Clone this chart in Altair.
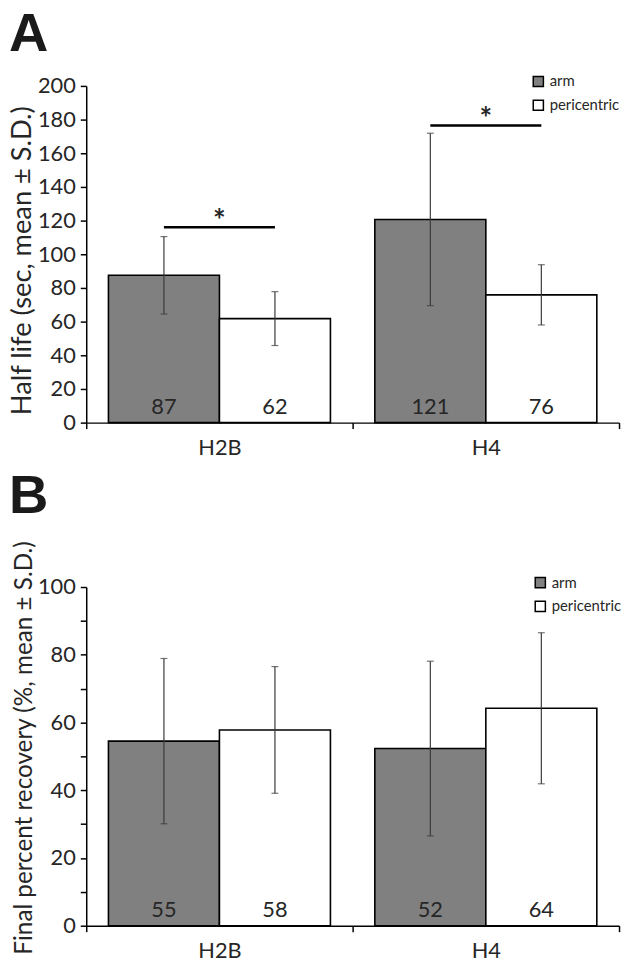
import altair as alt
import pandas as pd

groups = ["H2B", "H4"]
series = ["arm", "pericentric"]

# order: (H2B, arm), (H2B, pericentric), (H4, arm), (H4, pericentric)
row_groups = ["H2B", "H2B", "H4", "H4"]
row_series = ["arm", "pericentric", "arm", "pericentric"]

# Panel A: half life
half_life_mean = [87.5, 61.8, 120.7, 75.9]
half_life_sd = [23.0, 16.0, 51.2, 17.9]
half_life_labels = ["87", "62", "121", "76"]
sig_level = [116.0, 176.5]  # significance bar heights per group

# Panel B: final percent recovery
recovery_mean = [54.5, 57.8, 52.3, 64.2]
recovery_sd = [24.4, 18.7, 25.8, 22.3]
recovery_labels = ["55", "58", "52", "64"]

FONT = "Lato"
TXT = "#262626"


def make_df(means, sds, labels):
    return pd.DataFrame({
        "group": row_groups,
        "series": row_series,
        "mean": means,
        "lo": [m - s for m, s in zip(means, sds)],
        "hi": [m + s for m, s in zip(means, sds)],
        "base": [0, 0, 0, 0],
        "label": labels,
    })


def panel(df, ymax, ytitle, title_size, title_y, tickvals, labelexpr, letter,
          letter_dy, legend_x, sig=None, height=340):
    x = alt.X("group:N", sort=groups, title=None,
              scale=alt.Scale(paddingInner=0, paddingOuter=0),
              axis=alt.Axis(labelAngle=0, tickBand="extent", labelFontSize=22,
                            labelFont=FONT, labelColor=TXT, labelPadding=9,
                            tickSize=6, tickColor="black", tickWidth=1.5,
                            domainColor="black", domainWidth=1.5))
    xo = alt.XOffset("series:N", sort=series,
                     scale=alt.Scale(paddingInner=0, paddingOuter=0.2))
    yscale = alt.Scale(domain=[0, ymax], nice=False)
    yaxis = alt.Axis(values=tickvals, labelExpr=labelexpr, grid=False,
                     labelOverlap=False,
                     labelFontSize=22, labelFont=FONT, labelColor=TXT,
                     labelPadding=5, tickSize=6, tickColor="black",
                     tickWidth=1.5, domainColor="black", domainWidth=1.5,
                     titleFontSize=title_size, titleFont=FONT, titleColor=TXT,
                     titleFontWeight="normal", titlePadding=1, titleY=title_y)

    def Y(field):
        return alt.Y(field, scale=yscale, title=ytitle, axis=yaxis)

    bars = alt.Chart(df).mark_bar(stroke="black", strokeWidth=1.6).encode(
        x=x, xOffset=xo, y=Y("mean:Q"),
        fill=alt.Fill("series:N", sort=series,
                      scale=alt.Scale(domain=series, range=["#808080", "#ffffff"]),
                      legend=alt.Legend(title=None, orient="none", legendX=legend_x,
                                        legendY=-12, symbolType="square",
                                        symbolSize=105, symbolStrokeColor="black",
                                        symbolStrokeWidth=1.5, labelFontSize=15,
                                        labelFont=FONT, labelColor=TXT,
                                        rowPadding=7, labelOffset=4)),
    )
    rules = alt.Chart(df).mark_rule(color="#3a3a3a", strokeWidth=1.2).encode(
        x=x, xOffset=xo, y=Y("lo:Q"), y2="hi:Q")
    cap_lo = alt.Chart(df).mark_tick(color="#3a3a3a", size=7, thickness=1.2).encode(
        x=x, xOffset=xo, y=Y("lo:Q"))
    cap_hi = alt.Chart(df).mark_tick(color="#3a3a3a", size=7, thickness=1.2).encode(
        x=x, xOffset=xo, y=Y("hi:Q"))
    vals = alt.Chart(df).mark_text(fontSize=22, font=FONT, color=TXT,
                                   baseline="alphabetic", dy=-9).encode(
        x=x, xOffset=xo, y=Y("base:Q"), text="label:N")
    tag = alt.Chart(pd.DataFrame({"letter": [letter]})).mark_text(
        fontSize=55, font="Liberation Sans", fontWeight="bold", color="#1a1a1a",
        align="left", baseline="alphabetic").encode(
        text="letter:N", x=alt.value(-78), y=alt.value(letter_dy))
    layers = [bars, rules, cap_lo, cap_hi, vals]
    if sig is not None:
        sig_df = pd.DataFrame({
            "group": row_groups,
            "series": row_series,
            "sig": [sig[0], sig[0], sig[1], sig[1]],
        })
        line = alt.Chart(sig_df).mark_line(color="black", strokeWidth=2.5).encode(
            x=x, xOffset=xo, y=Y("sig:Q"), detail="group:N")
        star_df = pd.DataFrame({"group": groups, "sig": sig})
        star = alt.Chart(star_df).mark_text(text="*", fontSize=30, font=FONT,
                                            fontWeight="bold", color=TXT,
                                            baseline="alphabetic", dy=4).encode(
            x=x, y=Y("sig:Q"))
        layers += [line, star]
    layers.append(tag)
    return alt.layer(*layers).properties(width=538, height=height)


dfA = make_df(half_life_mean, half_life_sd, half_life_labels)
dfB = make_df(recovery_mean, recovery_sd, recovery_labels)

pA = panel(dfA, 200, "Half life (sec, mean ± S.D.)", 27.5, 176,
           list(range(0, 201, 20)), "datum.label", "A", -35, 449,
           sig=sig_level, height=340)
pB = panel(dfB, 100, "Final percent recovery (%, mean ± S.D.)", 24.5, 162,
           list(range(0, 101, 10)), "datum.value % 20 == 0 ? datum.label : ''",
           "B", -75, 451, height=342)

chart = alt.vconcat(pA, pB, spacing=166, bounds="flush").resolve_scale(
    fill="independent").resolve_legend(fill="independent").properties(
    padding={"top": -5, "left": 0, "right": 0, "bottom": 0}).configure_view(
    stroke=None).configure_axis(labelOverlap=False)

chart.save("out.html", embed_options={"renderer": "svg", "actions": False})
